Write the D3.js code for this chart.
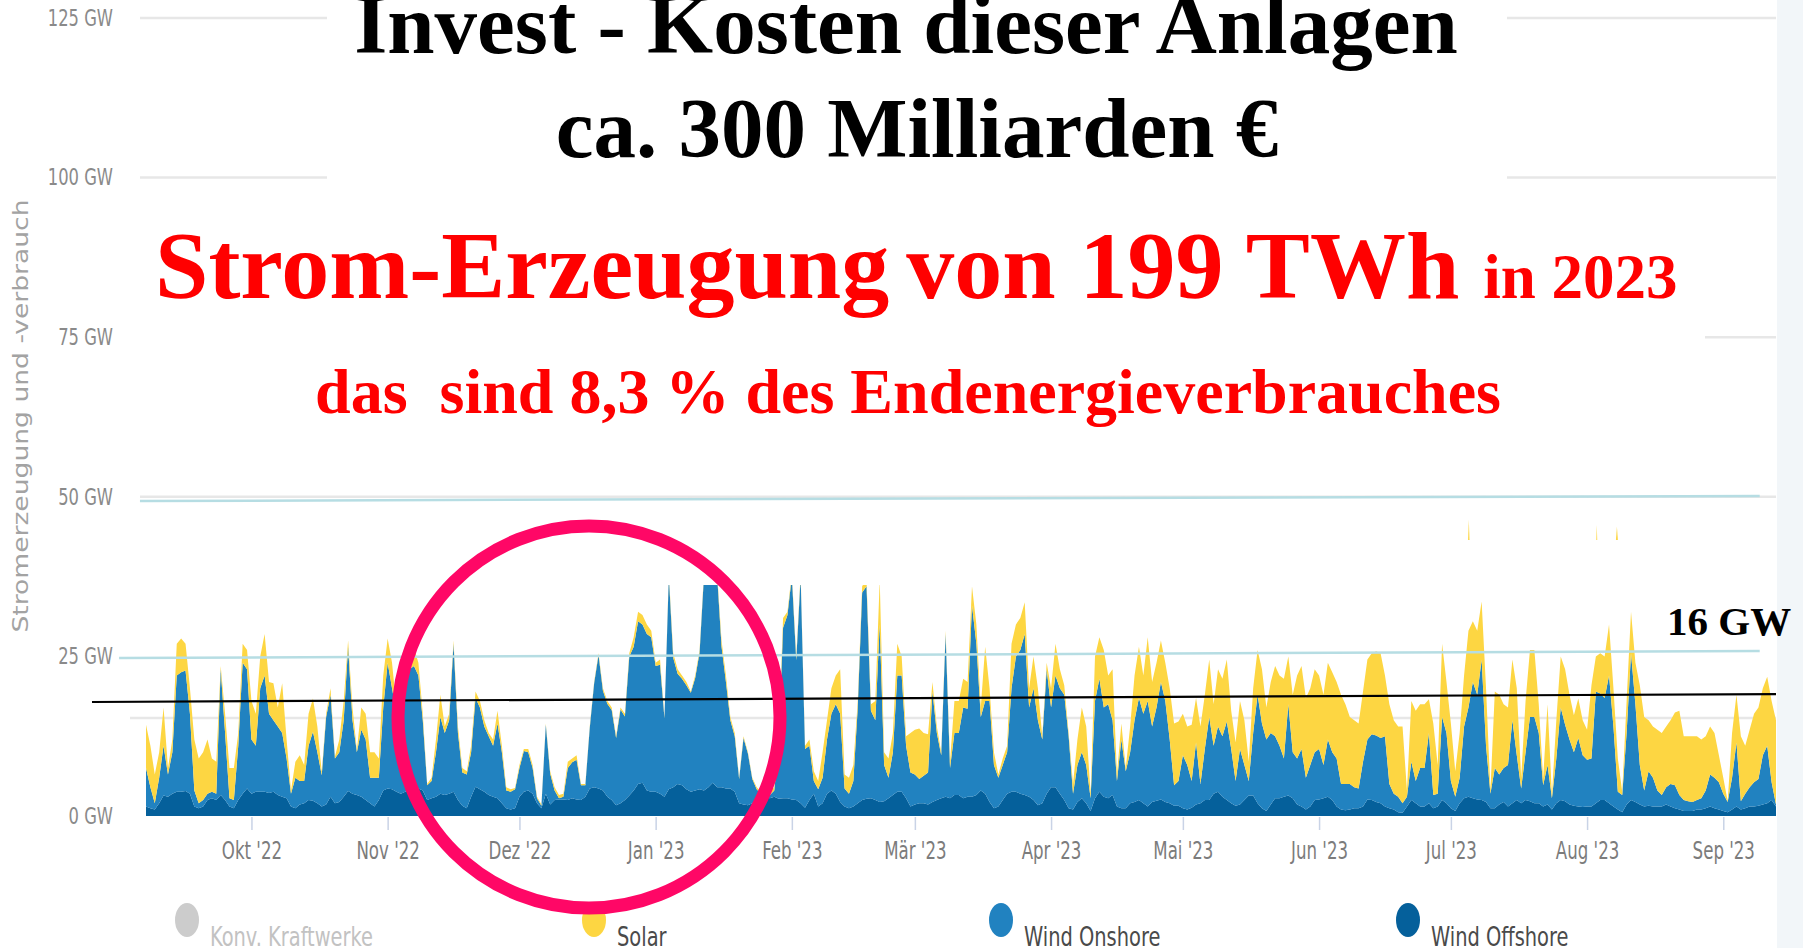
<!DOCTYPE html>
<html><head><meta charset="utf-8">
<script src="https://cdn.jsdelivr.net/npm/d3@7"></script>
<style>
body{margin:0;background:#fff;}
svg{display:block;}
.ax text, text.ax{font-family:"Liberation Sans Narrow","DejaVu Sans Condensed","Liberation Sans",sans-serif;}
.ttl{font-family:"Liberation Serif","Times New Roman",serif;font-weight:bold;}
</style>
</head><body>
<svg id="c" width="1803" height="948"></svg>
<script>
// ---------- DATA ----------
const startDate = new Date(2022, 8, 7); // first daily value
const offshore = [
1.5,1.2,1.0,2.0,3.2,3.0,3.5,3.8,3.8,3.9,
3.5,1.5,1.2,1.5,2.5,2.8,2.5,3.3,2.5,1.5,
1.2,2.5,3.5,4.3,3.5,3.8,3.8,3.8,3.6,3.8,
3.3,3.0,2.8,1.5,1.2,1.8,2.0,2.5,2.4,2.0,
1.5,1.8,3.0,2.0,2.2,3.0,3.9,3.5,3.3,3.0,
2.5,2.0,1.5,2.5,4.0,4.3,4.2,3.8,3.5,3.8,
4.2,4.0,4.3,4.0,2.5,2.8,3.0,3.5,3.3,3.5,
3.8,2.5,1.6,1.2,3.0,4.6,4.2,3.8,3.3,3.0,
2.8,2.0,1.2,1.0,1.2,3.0,3.8,4.0,3.5,2.0,
1.2,3.5,1.8,2.5,2.6,2.6,2.5,2.8,2.6,2.5,
3.0,4.3,4.5,4.3,4.0,3.0,2.5,1.7,2.0,2.5,
3.2,4.0,5.0,5.2,4.0,3.8,3.8,3.5,3.0,4.2,
4.5,5.0,4.8,4.2,3.8,4.0,4.2,4.0,4.5,5.2,
4.5,4.5,4.3,4.3,3.8,2.0,1.8,1.7,2.0,2.5,
2.8,3.0,2.8,3.0,2.7,2.8,2.8,2.6,2.5,2.0,
1.3,2.5,3.5,1.5,2.0,3.5,4.0,3.5,2.2,1.5,
1.2,1.5,2.0,2.5,2.7,2.8,2.5,2.2,2.3,2.8,
3.3,3.8,3.8,2.8,1.5,1.8,2.0,2.0,1.8,2.2,
2.5,2.8,3.0,2.8,3.3,3.3,2.8,3.0,3.0,3.3,
4.0,3.5,2.2,1.2,1.5,2.5,3.5,3.8,3.8,3.5,
3.3,3.0,2.5,1.7,2.0,3.5,4.5,4.5,3.5,2.5,
1.2,1.0,2.2,2.8,2.0,0.8,2.8,3.8,3.0,2.8,
3.3,1.5,1.2,1.2,2.0,2.2,2.5,2.0,1.5,2.2,
2.4,2.6,2.2,2.0,1.6,1.6,1.2,1.0,1.3,1.8,
2.0,2.5,2.5,3.5,3.8,3.0,2.5,2.0,1.6,1.8,
2.5,3.2,3.2,2.0,1.2,0.8,1.8,2.8,2.8,3.0,
3.2,2.8,1.8,1.5,1.0,1.5,2.5,2.6,2.8,3.0,
2.5,1.5,1.0,0.9,1.0,1.2,1.2,1.5,2.6,2.5,
2.2,2.0,1.5,1.2,1.0,0.6,0.5,1.5,2.5,2.0,
1.5,1.5,2.0,1.2,1.5,2.5,2.0,1.2,0.8,2.0,
2.8,3.0,2.8,2.6,2.5,2.2,1.2,1.2,1.8,2.2,
1.5,2.0,2.5,2.0,2.5,2.3,2.0,2.0,1.5,1.8,
1.0,2.0,2.5,2.3,1.8,1.6,1.5,1.4,1.5,1.5,
2.0,2.5,2.5,2.0,1.5,1.0,0.6,1.8,2.5,2.2,
1.8,1.5,1.6,1.5,1.5,1.5,1.8,1.5,1.2,1.0,
0.8,0.8,0.8,1.0,1.0,1.2,1.5,1.2,1.0,0.8,
0.6,1.0,1.5,1.0,1.2,1.5,1.5,1.6,1.8,2.0,
2.5,1.5];
const onshore = [
6.0,3.3,1.0,4.0,7.8,3.5,6.5,18.2,18.7,18.9,
12.5,2.5,0.8,1.0,1.0,1.0,1.0,19.7,10.5,1.3,
1.3,8.5,20.5,18.7,8.5,7.2,16.2,18.2,12.4,11.2,
10.7,10.0,6.2,2.0,4.8,3.7,3.5,8.5,10.8,8.0,
4.9,13.7,16.0,7.0,7.8,12.0,22.6,11.5,6.7,10.5,
9.5,4.0,4.5,3.5,13.0,19.7,15.8,12.2,13.5,17.7,
18.8,19.5,17.7,11.0,2.3,2.7,7.0,12.0,9.7,11.5,
23.2,10.5,5.2,5.3,7.0,13.9,12.8,10.2,9.2,8.0,
11.7,8.0,2.8,2.8,3.0,4.5,6.4,6.0,4.0,0.8,
0.4,10.8,4.8,1.5,0.2,0.4,5.0,5.6,6.2,2.3,
1.8,9.5,16.3,20.9,15.6,14.6,14.1,10.5,14.7,13.1,
21.8,22.5,25.5,24.8,24.5,24.2,19.7,20.2,12.3,33.4,
20.3,17.3,16.7,16.3,15.5,17.6,21.4,33.6,34.2,33.5,
33.1,22.0,16.7,10.7,8.7,3.8,10.4,8.1,3.8,1.7,
0.7,0.5,0.5,1.0,8.3,26.7,28.7,34.9,21.9,35.5,
9.2,8.5,2.0,2.7,4.0,8.5,12.0,14.0,13.8,2.8,
2.3,4.0,15.0,32.5,33.3,13.7,12.5,27.8,5.7,3.2,
6.7,18.2,18.2,8.2,5.3,4.7,3.8,4.3,5.0,17.3,
10.5,6.7,25.5,4.7,9.7,9.7,14.2,13.8,30.0,23.7,
11.5,14.5,15.8,6.8,4.5,5.5,6.5,16.2,21.2,22.5,
25.2,14.0,17.5,13.3,10.0,19.5,12.5,17.5,16.5,16.5,
11.3,2.5,5.8,7.2,6.0,2.0,15.2,17.7,14.0,14.7,
11.7,4.0,10.8,5.8,8.0,12.8,16.0,14.0,16.5,11.8,
14.6,18.4,15.8,10.0,3.2,3.9,8.3,7.0,4.2,9.7,
3.0,8.0,13.0,7.5,10.2,9.5,12.3,8.5,3.9,8.7,
5.5,2.3,9.8,17.0,13.3,11.2,11.2,9.7,8.2,6.0,
14.3,7.2,7.2,9.0,5.0,6.5,7.5,7.9,5.2,9.0,
7.5,7.5,4.0,4.1,4.0,3.3,3.1,7.0,9.4,10.3,
10.4,10.2,11.0,3.8,2.5,2.4,1.5,1.5,6.0,3.5,
6.0,6.0,11.0,2.1,2.0,13.0,11.0,4.3,2.2,4.0,
11.2,14.0,18.2,16.4,22.0,8.8,2.3,6.3,4.7,5.3,
6.5,13.0,7.0,2.3,7.5,13.2,13.5,11.0,3.3,6.2,
1.8,7.0,14.5,12.0,10.2,8.4,10.7,8.1,7.3,7.5,
17.5,16.7,16.0,20.0,12.5,2.8,2.7,11.2,23.0,15.3,
6.2,2.5,5.4,4.5,2.5,1.8,2.7,3.5,3.6,2.3,
1.7,1.5,1.4,1.5,1.8,2.8,5.0,4.8,4.3,2.7,
1.6,5.0,10.0,1.3,2.3,3.0,3.8,4.2,7.7,9.0,
2.8,0.3];
const solar = [
6.8,6.5,4.5,4.0,6.0,1.0,2.0,5.0,5.3,4.2,
4.0,8.0,7.0,7.5,8.5,5.2,5.0,0.5,3.0,4.7,
5.0,2.0,3.0,3.0,6.0,5.0,5.0,6.5,5.0,5.8,
3.0,7.8,3.0,0.5,2.5,4.0,2.5,5.0,5.2,4.0,
0.5,0.5,1.0,0.3,2.0,3.0,1.0,2.0,0.3,3.5,
4.0,4.0,4.0,3.0,5.0,3.8,4.0,1.0,1.0,1.5,
2.0,2.8,2.0,1.0,0.2,0.5,2.0,3.5,1.0,1.0,
0.5,1.0,0.7,0.5,1.0,1.0,1.0,1.0,0.5,1.0,
2.0,1.0,0.5,0.4,0.2,0.5,0.3,0.5,0.5,0.2,
0.2,0.2,0.4,0.5,0.5,0.5,1.0,0.6,0.7,0.2,
0.2,0.2,0.2,0.3,0.4,0.4,0.4,0.3,0.3,0.4,
0.5,1.5,1.5,1.5,1.5,1.0,0.5,0.8,0.2,0.4,
0.7,0.7,0.5,0.5,0.2,0.4,0.4,0.4,0.3,0.3,
0.4,1.0,1.0,0.5,0.5,0.2,0.3,0.2,0.2,0.3,
0.3,0.5,0.5,0.5,1.0,1.5,0.5,0.5,0.6,0.5,
0.5,1.0,1.5,1.3,4.0,3.0,4.0,4.5,7.0,2.2,
2.5,2.5,1.0,1.0,1.0,1.0,3.0,7.0,2.0,3.0,
3.0,5.0,3.0,1.5,6.2,7.0,7.9,6.7,6.0,1.5,
1.0,0.5,0.5,1.0,5.0,5.0,4.5,4.2,3.0,3.0,
1.5,8.5,2.0,2.0,0.5,1.0,1.0,7.0,5.0,5.0,
5.0,3.0,5.0,5.0,0.5,1.0,3.0,5.0,3.0,1.5,
0.5,1.5,4.0,7.0,6.0,0.7,7.0,6.5,9.0,4.5,
8.0,1.0,2.5,0.5,4.0,7.0,8.0,6.0,10.0,7.0,
7.0,6.5,6.0,8.0,9.7,9.3,6.5,6.0,8.8,7.0,
9.0,8.5,9.0,6.5,9.0,9.0,9.7,6.0,6.0,7.5,
7.0,3.0,7.0,7.0,8.5,5.0,8.0,11.0,11.0,12.5,
7.5,9.0,13.0,13.0,12.5,12.0,13.0,11.5,11.0,12.0,
12.5,12.0,14.0,12.5,10.5,10.5,10.2,11.0,12.5,12.7,
13.2,13.3,9.5,12.5,11.5,11.0,12.0,1.0,9.5,11.0,
10.0,10.0,5.3,11.2,4.5,11.5,8.0,9.0,4.0,7.0,
8.0,12.0,9.5,10.0,9.1,9.0,0.5,12.0,12.5,10.0,
9.0,9.5,10.5,1.7,8.0,10.5,10.5,4.5,1.1,9.5,
0.5,6.0,8.0,8.7,7.0,5.8,6.2,5.5,4.7,11.5,
5.5,6.3,6.5,8.0,6.0,5.2,0.5,5.0,6.5,6.5,
12.5,11.5,8.0,8.0,9.5,9.7,9.5,10.0,11.4,13.2,
10.0,10.2,10.3,10.0,9.2,8.5,7.5,7.0,4.2,2.5,
0.1,7.0,7.5,10.2,7.5,9.0,10.7,11.2,10.5,10.8,
12.7,13.2];

const seriesKeys   = ["offshore", "onshore", "solar"];
const seriesColors = ["#05609b", "#2182c0", "#fdd642"];

// short solar peaks that show above the white band (date, half-width in hours, peak GW)
const solarSpikes = [[new Date(2023,6,5,2), 8, 46.4], [new Date(2023,7,3,5), 6, 45.6], [new Date(2023,7,7,19), 14, 45.3]];

const yTickValues = [0, 25, 50, 75, 100, 125];
const yTickLabels = ["0 GW", "25 GW", "50 GW", "75 GW", "100 GW", "125 GW"];
const gridValues  = [125, 100, 75, 50, 15.35];

const monthTicks  = [new Date(2022,9,1), new Date(2022,10,1), new Date(2022,11,1), new Date(2023,0,1),
                     new Date(2023,1,1), new Date(2023,2,1), new Date(2023,3,1), new Date(2023,4,1),
                     new Date(2023,5,1), new Date(2023,6,1), new Date(2023,7,1), new Date(2023,8,1)];
const monthLabels = ["Okt '22","Nov '22","Dez '22","Jan '23","Feb '23","Mär '23","Apr '23","Mai '23","Jun '23","Jul '23","Aug '23","Sep '23"];

const legendLabels = ["Konv. Kraftwerke", "Solar", "Wind Onshore", "Wind Offshore"];
const legendColors = ["#cccccc", "#fdd642", "#2182c0", "#05609b"];
const legendTextColors = ["#c2c2c2", "#4a4a4a", "#4a4a4a", "#4a4a4a"];

// hand-drawn annotation lines (date, GW)
const blackLine = [[new Date(2022,7,25,17), 17.86], [new Date(2023,8,13), 19.1]];
const blueLines = [
  [[new Date(2022,7,31,21), 24.75], [new Date(2023,8,9,7), 25.85]],
  [[new Date(2022,8,5,15), 49.34], [new Date(2023,8,9,7), 50.13]]
];

// ---------- CHART ----------
const svg = d3.select("#c");
const dates = d3.timeDay.range(startDate, d3.timeDay.offset(startDate, offshore.length));
const rows = dates.map((d, i) => ({date: d, offshore: offshore[i], onshore: onshore[i], solar: solar[i]}));

const x = d3.scaleTime().domain(d3.extent(dates)).range([146, 1776]);
const y = d3.scaleLinear().domain([0, 125]).range([816, 18]);

function squeeze(sel, f) {
  sel.each(function () {
    const w = this.getComputedTextLength();
    d3.select(this).attr("textLength", w * f).attr("lengthAdjust", "spacingAndGlyphs");
  });
}

svg.append("rect").attr("width", 1803).attr("height", 948).attr("fill", "#fff");
svg.append("rect").attr("x", 1777).attr("y", 0).attr("width", 26).attr("height", 948).attr("fill", "#f2f6f9");

// gridlines
svg.append("g").selectAll("line").data(gridValues).join("line")
  .attr("x1", (d) => d < 20 ? 130 : 140).attr("x2", 1776)
  .attr("y1", d => y(d)).attr("y2", d => y(d))
  .attr("stroke", "#e7e7e7").attr("stroke-width", 2.5);

// stacked areas
const stack = d3.stack().keys(seriesKeys);
const layers = stack(rows);
const area = d3.area().x(d => x(d.data.date)).y0(d => y(d[0])).y1(d => y(d[1]));
svg.append("clipPath").attr("id", "clipTop").append("rect")
  .attr("x", 0).attr("y", 585).attr("width", 1803).attr("height", 400);
svg.append("g").attr("clip-path", "url(#clipTop)")
  .selectAll("path").data(layers).join("path")
  .attr("d", area).attr("fill", (d, i) => seriesColors[i]);

// spikes visible above the white band
svg.append("clipPath").attr("id", "clipBand").append("rect")
  .attr("x", 0).attr("y", 0).attr("width", 1803).attr("height", 540);
const spikeArea = d3.area().x(d => x(d[0])).y0(y(40)).y1(d => y(d[1]));
svg.append("g").attr("clip-path", "url(#clipBand)")
  .selectAll("path").data(solarSpikes).join("path")
  .attr("d", d => spikeArea([[d3.timeHour.offset(d[0], -d[1]), 40], [d[0], d[2]], [d3.timeHour.offset(d[0], d[1]), 40]]))
  .attr("fill", seriesColors[2]);

// x axis
const xAxis = d3.axisBottom(x).tickValues(monthTicks).tickFormat((d, i) => monthLabels[i])
  .tickSize(13).tickPadding(12);
const gx = svg.append("g").attr("class", "ax").attr("transform", "translate(0,817)").call(xAxis);
gx.select(".domain").remove();
gx.selectAll("line").attr("stroke", "#c9d3e6").attr("stroke-width", 1.5);
gx.selectAll("text").attr("fill", "#7c7c7c").attr("font-size", 24).attr("font-family", null);
squeeze(gx.selectAll("text"), 0.77);

// y axis labels
const yAxis = d3.axisLeft(y).tickValues(yTickValues).tickFormat((d, i) => yTickLabels[i])
  .tickSize(0).tickPadding(0);
const gy = svg.append("g").attr("class", "ax").attr("transform", "translate(113,0)").call(yAxis);
gy.select(".domain").remove();
gy.selectAll("text").attr("fill", "#8a8a8a").attr("font-size", 23).attr("font-family", null);
squeeze(gy.selectAll("text"), 0.79);

// white boxes behind the titles
const boxes = [[327, 0, 1507, 195], [118, 195, 1705, 345], [300, 345, 1510, 440]];
svg.append("g").selectAll("rect").data(boxes).join("rect")
  .attr("x", d => d[0]).attr("y", d => d[1])
  .attr("width", d => d[2] - d[0]).attr("height", d => d[3] - d[1]).attr("fill", "#fff");

// annotation lines
const lineGen = d3.line().x(d => x(d[0])).y(d => y(d[1]));
svg.append("g").selectAll("path").data(blueLines).join("path")
  .attr("d", lineGen).attr("fill", "none").attr("stroke", "#b6dde3").attr("stroke-width", 2.5);
svg.append("path").datum(blackLine).attr("d", lineGen).attr("fill", "none")
  .attr("stroke", "#000").attr("stroke-width", 2.2);

// titles
const t = svg.append("g").attr("class", "ttl");
t.append("text").attr("x", 906).attr("y", 53).attr("text-anchor", "middle")
  .attr("font-size", 85).attr("fill", "#000").text("Invest - Kosten dieser Anlagen");
t.append("text").attr("x", 917).attr("y", 157).attr("text-anchor", "middle")
  .attr("font-size", 85).attr("fill", "#000").text("ca. 300 Milliarden €");
const t3 = t.append("text").attr("x", 155).attr("y", 298).attr("fill", "#ff0000");
t3.append("tspan").attr("font-size", 96).text("Strom-Erzeugung");
t3.append("tspan").attr("font-size", 96).attr("dx", 17).text("von 199 TWh ");
t3.append("tspan").attr("font-size", 63).text("in 2023");
t.append("text").attr("x", 908).attr("y", 413).attr("text-anchor", "middle")
  .attr("font-size", 64).attr("fill", "#ff0000").text("das\u00A0 sind 8,3 % des Endenergieverbrauches");
t.append("text").attr("x", 1667).attr("y", 635)
  .attr("font-size", 41).attr("fill", "#000").text("16 GW");

// y axis title
svg.append("text").attr("class", "ax")
  .attr("transform", "translate(28,416) rotate(-90)")
  .attr("text-anchor", "middle")
  .attr("font-size", 22).attr("fill", "#a3a3a3")
  .attr("textLength", 433).attr("lengthAdjust", "spacingAndGlyphs")
  .text("Stromerzeugung und -verbrauch");

// legend
const lg = svg.append("g").attr("class", "ax").selectAll("g").data(legendLabels).join("g")
  .attr("transform", (d, i) => `translate(${187 + i * 407},920)`);
lg.append("ellipse").attr("rx", 12).attr("ry", 17).attr("fill", (d, i) => legendColors[i]);
lg.append("text").attr("x", 23).attr("y", 26)
  .attr("font-size", 27).attr("fill", (d, i) => legendTextColors[i]).text(d => d);
squeeze(lg.selectAll("text"), 0.8);

// pink circle
svg.append("circle").attr("cx", 589).attr("cy", 717).attr("r", 191)
  .attr("fill", "none").attr("stroke", "#ff0766").attr("stroke-width", 13);
</script>
</body></html>
